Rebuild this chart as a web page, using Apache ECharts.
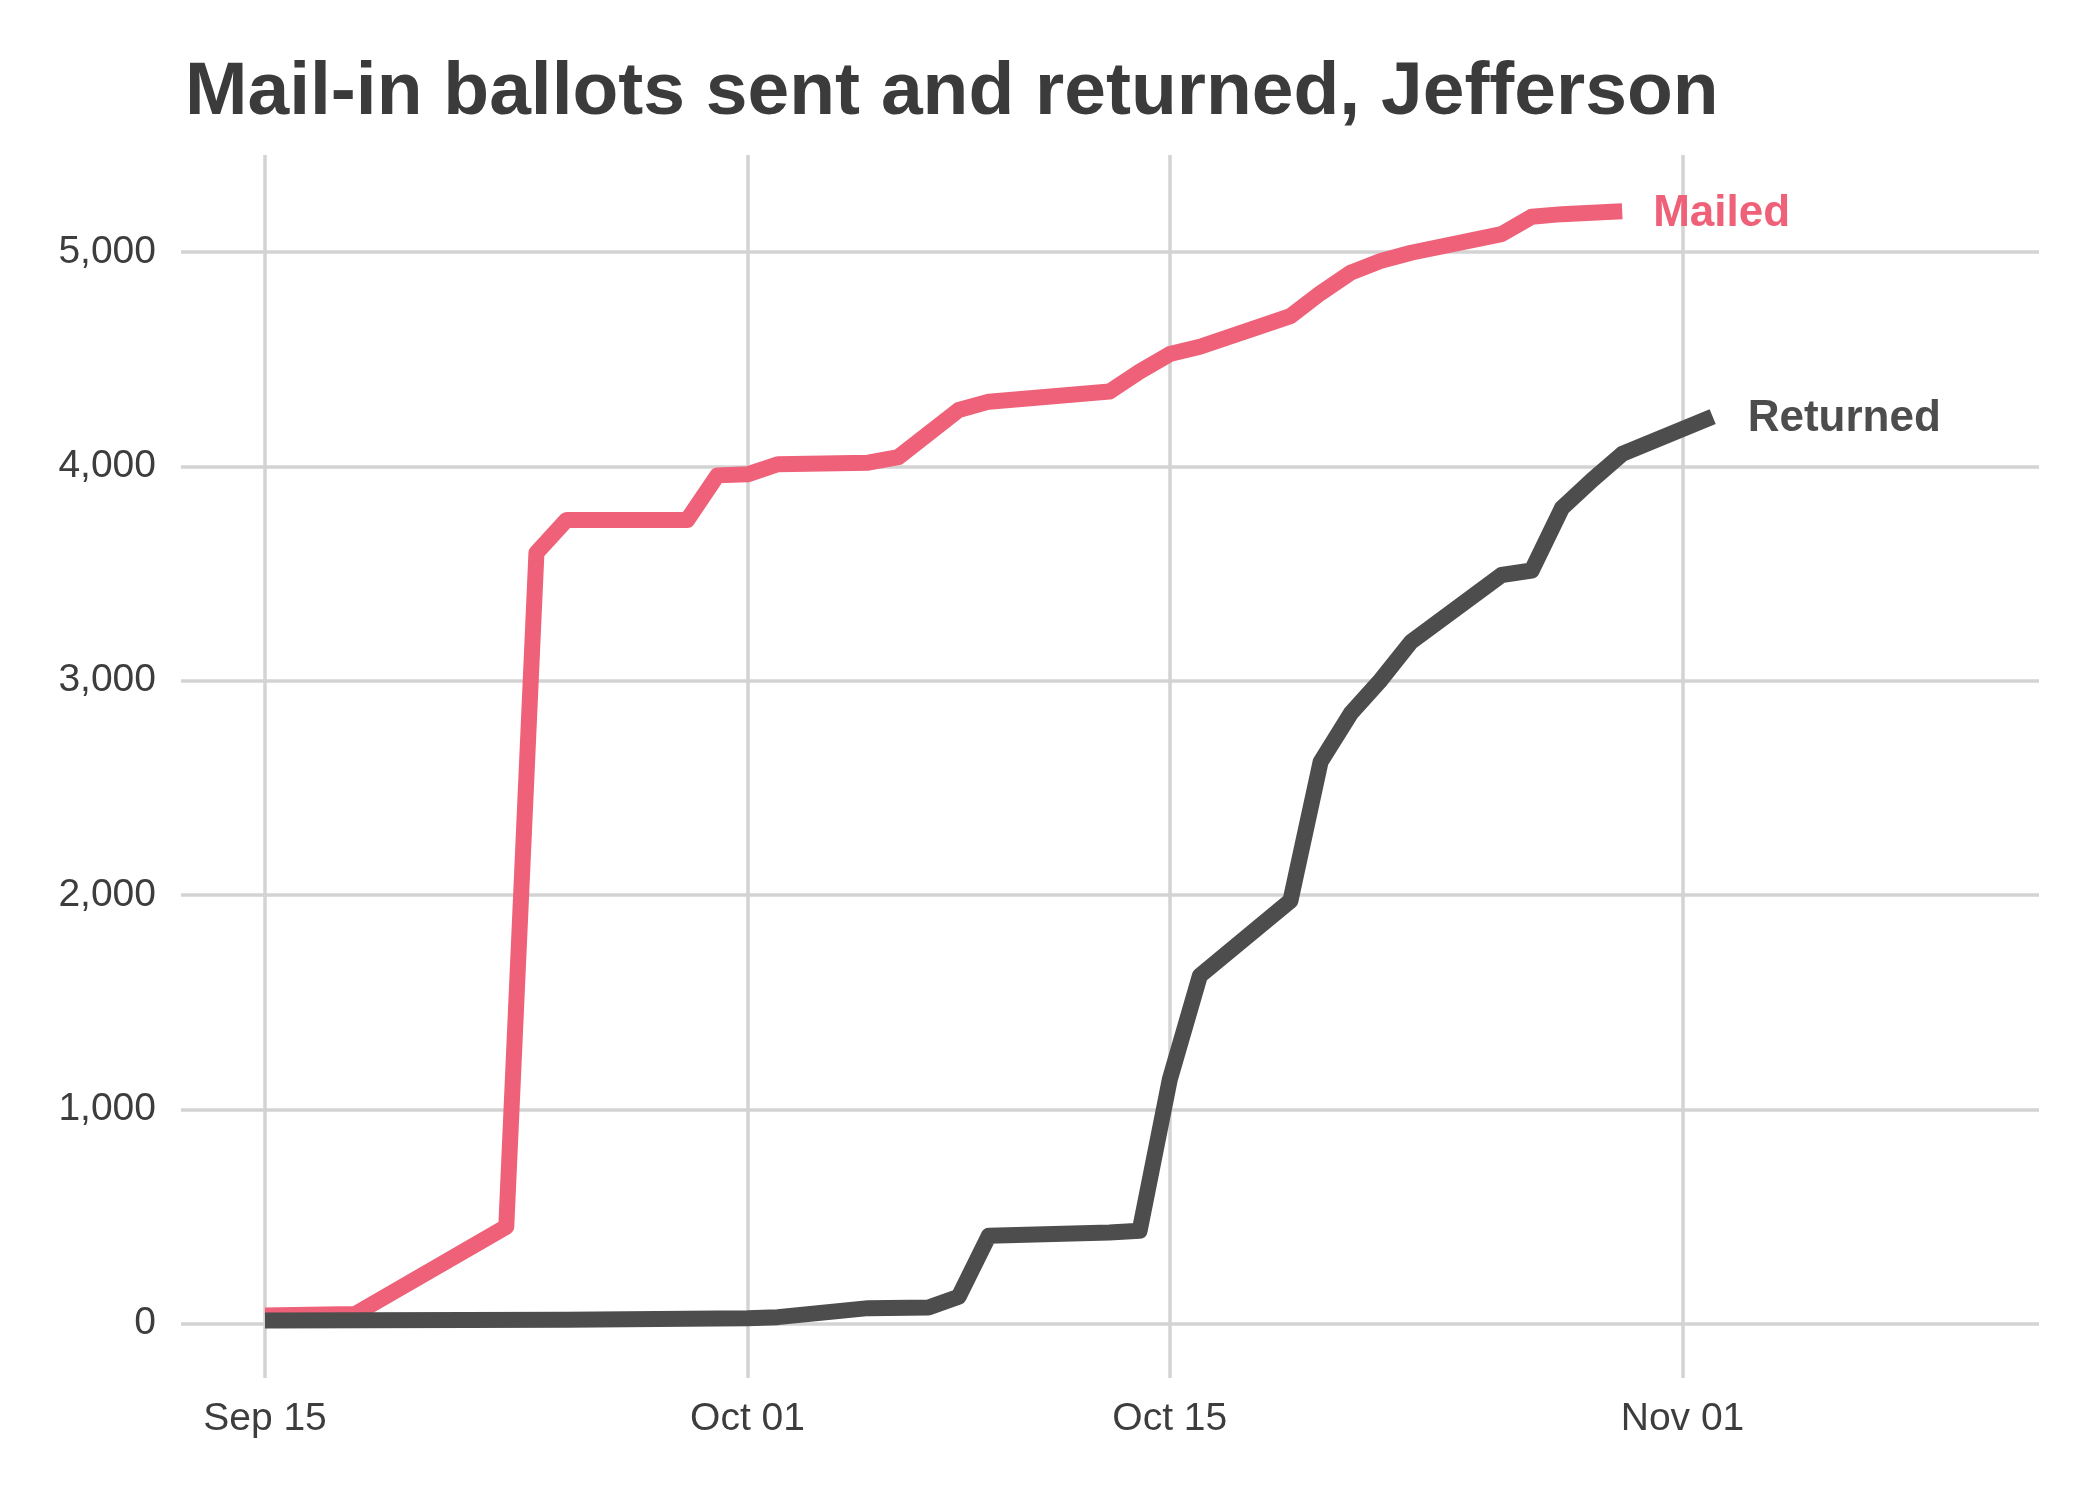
<!DOCTYPE html>
<html>
<head>
<meta charset="utf-8">
<script src="https://cdn.jsdelivr.net/npm/echarts@6/dist/echarts.min.js"></script>
<style>
  html, body { margin: 0; padding: 0; background: #fff; }
  #chart { width: 2100px; height: 1500px; }
</style>
</head>
<body>
<div id="chart"></div>
<script>
// cumulative ballots mailed out
var mailedDates = ['2020-09-15', '2020-09-18', '2020-09-23', '2020-09-24', '2020-09-25', '2020-09-29',
  '2020-09-30', '2020-10-01', '2020-10-02', '2020-10-05', '2020-10-06', '2020-10-08', '2020-10-09',
  '2020-10-13', '2020-10-14', '2020-10-15', '2020-10-16', '2020-10-19', '2020-10-20', '2020-10-21',
  '2020-10-22', '2020-10-23', '2020-10-26', '2020-10-27', '2020-10-28', '2020-10-30']
var mailedValues = [38, 45, 452, 3596, 3750, 3750,
  3958, 3963, 4010, 4017, 4043, 4263, 4302,
  4349, 4442, 4524, 4558, 4701, 4809, 4904,
  4959, 4997, 5084, 5165, 5177, 5190]

// cumulative ballots returned
var returnedDates = ['2020-09-15', '2020-09-25', '2020-10-01', '2020-10-02', '2020-10-05', '2020-10-07',
  '2020-10-08', '2020-10-09', '2020-10-13', '2020-10-14', '2020-10-15', '2020-10-16', '2020-10-19',
  '2020-10-20', '2020-10-21', '2020-10-22', '2020-10-23', '2020-10-26', '2020-10-27', '2020-10-28',
  '2020-10-29', '2020-10-30', '2020-11-02']
var returnedValues = [14, 18, 25, 30, 72, 75,
  125, 410, 425, 433, 1139, 1624, 1973,
  2621, 2847, 3004, 3181, 3493, 3514, 3805,
  3936, 4058, 4232]

var xTickDates = ['2020-09-15', '2020-10-01', '2020-10-15', '2020-11-01']
var yTicks = [0, 1000, 2000, 3000, 4000, 5000]

var MONTHS = ['Jan', 'Feb', 'Mar', 'Apr', 'May', 'Jun', 'Jul', 'Aug', 'Sep', 'Oct', 'Nov', 'Dec']
var DAY = 24 * 3600 * 1000
var FONT = '"Liberation Sans", Arial, sans-serif'

function toTs(s) {
  var p = s.split('-')
  return new Date(+p[0], +p[1] - 1, +p[2]).getTime()
}
function pairs(dates, vals) {
  return dates.map(function (d, i) { return [toTs(d), vals[i]] })
}
function fmtDate(v) {
  var d = new Date(v)
  var dd = d.getDate()
  return MONTHS[d.getMonth()] + ' ' + (dd < 10 ? '0' + dd : dd)
}
function fmtNum(v) {
  return String(v).replace(/\B(?=(\d{3})+(?!\d))/g, ',')
}

var xTicks = xTickDates.map(toTs)
var start = toTs('2020-09-15')

var chart = echarts.init(document.getElementById('chart'), null, { renderer: 'canvas' })

// x is a plain value axis holding timestamps, so the odd ggplot breaks can be set by hand
chart.setOption({
  animation: false,
  backgroundColor: '#ffffff',
  title: {
    text: 'Mail-in ballots sent and returned, Jefferson',
    left: 185,
    top: 56,
    padding: 0,
    textStyle: { fontFamily: FONT, fontSize: 75, fontWeight: 'bold', color: '#3b3b3b' }
  },
  grid: { left: 181, right: 61, top: 155, bottom: 122, containLabel: false },
  xAxis: {
    type: 'value',
    min: start - 2.785 * DAY,
    max: start + 58.82 * DAY,
    axisLine: { show: false },
    axisTick: { show: false, customValues: xTicks },
    axisLabel: {
      customValues: xTicks,
      formatter: fmtDate,
      fontFamily: FONT, fontSize: 39, color: '#3d3d3d', margin: 22
    },
    splitLine: { show: true, lineStyle: { color: '#d3d3d3', width: 3.5 } }
  },
  yAxis: {
    type: 'value',
    min: -254,
    max: 5453,
    axisLine: { show: false },
    axisTick: { show: false, customValues: yTicks },
    axisLabel: {
      customValues: yTicks,
      formatter: fmtNum,
      fontFamily: FONT, fontSize: 39, color: '#3d3d3d', margin: 25
    },
    splitLine: { show: true, lineStyle: { color: '#d3d3d3', width: 3.5 } }
  },
  series: [
    {
      name: 'Mailed',
      type: 'line',
      data: pairs(mailedDates, mailedValues),
      showSymbol: false,
      lineStyle: { color: '#ee6178', width: 16, cap: 'butt', join: 'round' },
      itemStyle: { color: '#ee6178' },
      endLabel: {
        show: true, formatter: '{a}', distance: 31, offset: [0, 2],
        fontFamily: FONT, fontSize: 44, fontWeight: 'bold', color: '#ee6178'
      }
    },
    {
      name: 'Returned',
      type: 'line',
      data: pairs(returnedDates, returnedValues),
      showSymbol: false,
      lineStyle: { color: '#4d4d4d', width: 16, cap: 'butt', join: 'round' },
      itemStyle: { color: '#4d4d4d' },
      endLabel: {
        show: true, formatter: '{a}', distance: 35, offset: [0, 2],
        fontFamily: FONT, fontSize: 44, fontWeight: 'bold', color: '#4d4d4d'
      }
    }
  ]
})
</script>
</body>
</html>
